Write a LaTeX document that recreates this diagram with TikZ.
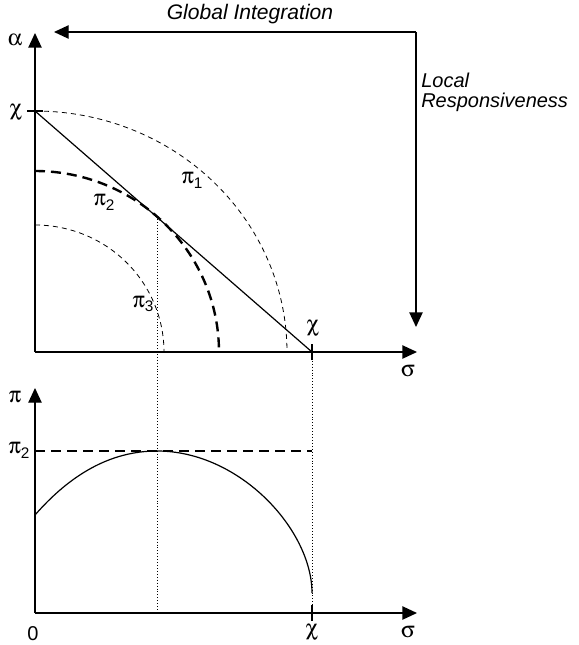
\documentclass[tikz,border=0pt]{standalone}
\usepackage{fontspec}
\usepackage[Symbol]{upgreek}
\setmainfont{Liberation Sans}
\newfontfamily\sansf{Liberation Sans}
\usetikzlibrary{arrows.meta}
\newcommand\pisub[1]{$\uppi$\raisebox{-3.5pt}{\sansf\fontsize{11.5}{11.5}\selectfont #1}}
\begin{document}
\begin{tikzpicture}[x=0.75pt,y=-0.75pt,
  axis/.style={line width=1pt,-{Triangle[length=11pt,width=10pt]}},
  plain/.style={line width=0.9pt},
  thindash/.style={line width=0.6pt,dash pattern=on 3.75pt off 3pt},
  bolddash/.style={line width=1.8pt,dash pattern=on 7.5pt off 4.5pt},
  dots/.style={line width=0.7pt,dash pattern=on 0.6pt off 1.6pt},
  tick/.style={line width=0.9pt},
  lbl/.style={inner sep=0pt,font=\fontsize{17}{17}\selectfont},
  txt/.style={inner sep=0pt,font=\fontsize{15}{15}\selectfont\itshape}]
\useasboundingbox (0,0) rectangle (578,645);
% top plot coordinates
\coordinate (O1) at (35,352);
\coordinate (Y1) at (35,33);
\coordinate (X1) at (417,352);
\coordinate (CY) at (35,111);
\coordinate (CX) at (312,352);
\coordinate (T) at (157,216);
% bottom plot coordinates
\coordinate (O2) at (35,613);
\coordinate (Y2) at (35,388);
\coordinate (X2) at (417,613);
\coordinate (P2) at (35,451);
\coordinate (P2e) at (312,451);
\coordinate (M) at (157,451);
\coordinate (CX2) at (312,613);
\coordinate (S0) at (35,515);
\coordinate (S1) at (312,593);
\coordinate (B1) at (157,613);
% global arrow coordinates
\coordinate (GL) at (54,32);
\coordinate (GC) at (416,32);
\coordinate (GD) at (416,327);

% axes
\draw[axis] (O1) -- (Y1);
\draw[axis] (O1) -- (X1);
\draw[axis] (O2) -- (Y2);
\draw[axis] (O2) -- (X2);
% ticks
\draw[tick] ([xshift=-6]CY) -- ([xshift=6]CY);
\draw[tick] ([yshift=-6]CX) -- ([yshift=6]CX);
\draw[tick] ([yshift=-6]CX2) -- ([yshift=6]CX2);

% budget line
\draw[plain] (CY) -- (CX);
% iso-profit curves
\draw[thindash] plot[domain=90:0,samples=80] ({35+252*cos(\x)},{352-241*sin(\x)});
\draw[bolddash] plot[domain=90:0,samples=80] ({35+184*cos(\x)},{352-181*sin(\x)});
\draw[thindash] plot[domain=90:0,samples=80] ({35+129*cos(\x)},{352-127*sin(\x)});

% dotted guides
\draw[dots] (T) -- (B1);
\draw[dots] (CX) -- (CX2);

% bottom curve
\draw[plain] (S0) .. controls (70,475) and (110,451) .. (M)
  .. controls (240,451) and (312,530) .. (S1);
\draw[bolddash] (P2) -- (P2e);

% global / local arrow
\draw[line width=1pt,-{Triangle[length=11pt,width=10pt]}] (GC) -- (GL);
\draw[line width=1pt,-{Triangle[length=11pt,width=10pt]}] (GC) -- (GD);

% labels
\node[lbl] (la) at (15,40) {$\upalpha$};
\node[lbl] (lc1) at (16,112) {$\upchi$};
\node[lbl] (lcx) at (313,328) {$\upchi$};
\node[lbl] (ls1) at (408,371) {$\upsigma$};
\node[lbl] (lp1) at (192,180) {\pisub{1}};
\node[lbl] (lp2) at (104,202) {\pisub{2}};
\node[lbl] (lp3) at (143,304) {\pisub{3}};
\node[lbl] (lp) at (15,397) {$\uppi$};
\node[lbl] (lp2b) at (19,450) {\pisub{2}};
\node[inner sep=0pt,font=\fontsize{15}{15}\selectfont] (l0) at (33,634) {0};
\node[lbl] (lc2) at (312,632) {$\upchi$};
\node[lbl] (ls2) at (408,632) {$\upsigma$};
\node[txt,font=\fontsize{15.8}{15.8}\selectfont\itshape] (gi) at (250,14) {Global Integration};
\node[txt,anchor=west,align=left] (lr) at (421,92) {Local\\Responsiveness};
\end{tikzpicture}
\end{document}
